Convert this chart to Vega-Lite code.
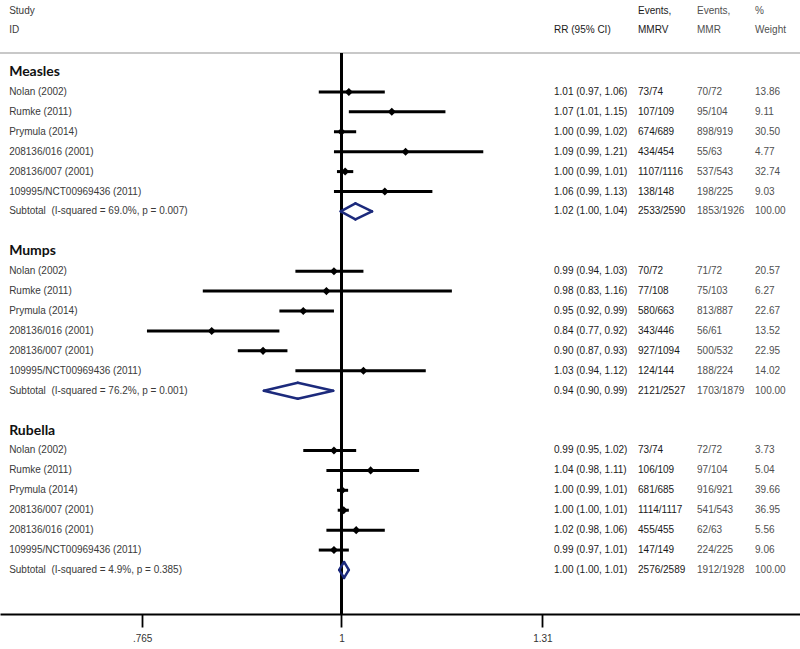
{
  "$schema": "https://vega.github.io/schema/vega-lite/v6.json",
  "width": 800,
  "height": 614,
  "autosize": {"type": "none"},
  "padding": {"left": 0, "top": 0, "right": 0, "bottom": 35},
  "background": "white",
  "config": {
    "view": {"stroke": null},
    "font": "Liberation Sans"
  },
  "data": {"values": [
    {"row": -3.05, "type": "header", "label": "Study", "ci": "", "ev1": "Events,", "ev2": "Events,", "w": "%"},
    {"row": -2.1, "type": "header", "label": "ID", "ci": "RR (95% CI)", "ev1": "MMRV", "ev2": "MMR", "w": "Weight"},
    {"row": 0, "type": "group", "label": "Measles"},
    {"row": 1, "type": "study", "label": "Nolan (2002)", "rr": 1.01, "lo": 0.97, "hi": 1.06, "ci": "1.01 (0.97, 1.06)", "ev1": "73/74", "ev2": "70/72", "w": "13.86"},
    {"row": 2, "type": "study", "label": "Rumke (2011)", "rr": 1.07, "lo": 1.01, "hi": 1.15, "ci": "1.07 (1.01, 1.15)", "ev1": "107/109", "ev2": "95/104", "w": "9.11"},
    {"row": 3, "type": "study", "label": "Prymula (2014)", "rr": 1.0, "lo": 0.99, "hi": 1.02, "ci": "1.00 (0.99, 1.02)", "ev1": "674/689", "ev2": "898/919", "w": "30.50"},
    {"row": 4, "type": "study", "label": "208136/016 (2001)", "rr": 1.09, "lo": 0.99, "hi": 1.21, "ci": "1.09 (0.99, 1.21)", "ev1": "434/454", "ev2": "55/63", "w": "4.77"},
    {"row": 5, "type": "study", "label": "208136/007 (2001)", "rr": 1.005, "lo": 0.994, "hi": 1.016, "ci": "1.00 (0.99, 1.01)", "ev1": "1107/1116", "ev2": "537/543", "w": "32.74"},
    {"row": 6, "type": "study", "label": "109995/NCT00969436 (2011)", "rr": 1.06, "lo": 0.99, "hi": 1.13, "ci": "1.06 (0.99, 1.13)", "ev1": "138/148", "ev2": "198/225", "w": "9.03"},
    {"row": 7, "type": "subtotal", "label": "Subtotal\u00a0 (I-squared = 69.0%, p = 0.007)", "rr": 1.019, "lo": 0.999, "hi": 1.042, "ci": "1.02 (1.00, 1.04)", "ev1": "2533/2590", "ev2": "1853/1926", "w": "100.00"},
    {"row": 9, "type": "group", "label": "Mumps"},
    {"row": 10, "type": "study", "label": "Nolan (2002)", "rr": 0.99, "lo": 0.94, "hi": 1.03, "ci": "0.99 (0.94, 1.03)", "ev1": "70/72", "ev2": "71/72", "w": "20.57"},
    {"row": 11, "type": "study", "label": "Rumke (2011)", "rr": 0.98, "lo": 0.83, "hi": 1.16, "ci": "0.98 (0.83, 1.16)", "ev1": "77/108", "ev2": "75/103", "w": "6.27"},
    {"row": 12, "type": "study", "label": "Prymula (2014)", "rr": 0.95, "lo": 0.92, "hi": 0.99, "ci": "0.95 (0.92, 0.99)", "ev1": "580/663", "ev2": "813/887", "w": "22.67"},
    {"row": 13, "type": "study", "label": "208136/016 (2001)", "rr": 0.84, "lo": 0.77, "hi": 0.92, "ci": "0.84 (0.77, 0.92)", "ev1": "343/446", "ev2": "56/61", "w": "13.52"},
    {"row": 14, "type": "study", "label": "208136/007 (2001)", "rr": 0.9, "lo": 0.87, "hi": 0.93, "ci": "0.90 (0.87, 0.93)", "ev1": "927/1094", "ev2": "500/532", "w": "22.95"},
    {"row": 15, "type": "study", "label": "109995/NCT00969436 (2011)", "rr": 1.03, "lo": 0.94, "hi": 1.12, "ci": "1.03 (0.94, 1.12)", "ev1": "124/144", "ev2": "188/224", "w": "14.02"},
    {"row": 16, "type": "subtotal", "label": "Subtotal\u00a0 (I-squared = 76.2%, p = 0.001)", "rr": 0.943, "lo": 0.901, "hi": 0.989, "ci": "0.94 (0.90, 0.99)", "ev1": "2121/2527", "ev2": "1703/1879", "w": "100.00"},
    {"row": 18, "type": "group", "label": "Rubella"},
    {"row": 19, "type": "study", "label": "Nolan (2002)", "rr": 0.99, "lo": 0.95, "hi": 1.02, "ci": "0.99 (0.95, 1.02)", "ev1": "73/74", "ev2": "72/72", "w": "3.73"},
    {"row": 20, "type": "study", "label": "Rumke (2011)", "rr": 1.04, "lo": 0.98, "hi": 1.11, "ci": "1.04 (0.98, 1.11)", "ev1": "106/109", "ev2": "97/104", "w": "5.04"},
    {"row": 21, "type": "study", "label": "Prymula (2014)", "rr": 1.001, "lo": 0.994, "hi": 1.009, "ci": "1.00 (0.99, 1.01)", "ev1": "681/685", "ev2": "916/921", "w": "39.66"},
    {"row": 22, "type": "study", "label": "208136/007 (2001)", "rr": 1.003, "lo": 0.995, "hi": 1.01, "ci": "1.00 (1.00, 1.01)", "ev1": "1114/1117", "ev2": "541/543", "w": "36.95"},
    {"row": 23, "type": "study", "label": "208136/016 (2001)", "rr": 1.02, "lo": 0.98, "hi": 1.06, "ci": "1.02 (0.98, 1.06)", "ev1": "455/455", "ev2": "62/63", "w": "5.56"},
    {"row": 24, "type": "study", "label": "109995/NCT00969436 (2011)", "rr": 0.99, "lo": 0.97, "hi": 1.01, "ci": "0.99 (0.97, 1.01)", "ev1": "147/149", "ev2": "224/225", "w": "9.06"},
    {"row": 25, "type": "subtotal", "label": "Subtotal\u00a0 (I-squared = 4.9%, p = 0.385)", "rr": 1.0035, "lo": 0.997, "hi": 1.01, "ci": "1.00 (1.00, 1.01)", "ev1": "2576/2589", "ev2": "1912/1928", "w": "100.00"}
  ]},
  "encoding": {
    "y": {"field": "row", "type": "quantitative", "scale": {"domain": [-3.614, 27.21], "reverse": true, "nice": false, "zero": false}, "axis": null}
  },
  "layer": [
    {
      "mark": {"type": "rule", "color": "#c8c8c8", "strokeWidth": 2},
      "encoding": {"y": {"datum": -0.95, "type": "quantitative"}}
    },
    {
      "transform": [{"filter": "datum.type == 'study'"}],
      "mark": {"type": "rule", "color": "black", "strokeWidth": 3},
      "encoding": {
        "x": {"field": "lo", "type": "quantitative",
          "scale": {"type": "log", "domain": [0.632, 1.852], "nice": false, "zero": false},
          "axis": {"values": [0.765, 1, 1.31], "labelExpr": "replace(toString(datum.value), '0.', '.')", "title": null, "grid": false, "zindex": 2,
            "domainColor": "#000000", "domainWidth": 1.8, "domainOpacity": 1, "tickColor": "#000000", "tickWidth": 1.8, "tickOpacity": 1, "tickSize": 13,
            "labelFont": "Liberation Sans", "labelFontSize": 10, "labelColor": "#333333", "labelPadding": 6}},
        "x2": {"field": "hi"}
      }
    },
    {
      "mark": {"type": "rule", "color": "black", "strokeWidth": 1.5},
      "encoding": {
        "x": {"datum": 1, "type": "quantitative"},
        "y": {"datum": -0.95, "type": "quantitative"},
        "y2": {"datum": 27.21}
      }
    },
    {
      "transform": [{"filter": "datum.type == 'study'"}],
      "mark": {"type": "point", "shape": "diamond", "filled": true, "color": "black", "size": 65, "opacity": 1},
      "encoding": {"x": {"field": "rr", "type": "quantitative"}}
    },
    {
      "transform": [{"filter": "datum.type == 'subtotal'"}],
      "mark": {"type": "rule", "color": "#1c2a7c", "strokeWidth": 2.5, "strokeCap": "round", "y2Offset": -8},
      "encoding": {"x": {"field": "lo", "type": "quantitative"}, "x2": {"field": "rr"}, "y2": {"field": "row"}}
    },
    {
      "transform": [{"filter": "datum.type == 'subtotal'"}],
      "mark": {"type": "rule", "color": "#1c2a7c", "strokeWidth": 2.5, "strokeCap": "round", "y2Offset": 8},
      "encoding": {"x": {"field": "lo", "type": "quantitative"}, "x2": {"field": "rr"}, "y2": {"field": "row"}}
    },
    {
      "transform": [{"filter": "datum.type == 'subtotal'"}],
      "mark": {"type": "rule", "color": "#1c2a7c", "strokeWidth": 2.5, "strokeCap": "round", "yOffset": -8},
      "encoding": {"x": {"field": "rr", "type": "quantitative"}, "x2": {"field": "hi"}, "y2": {"field": "row"}}
    },
    {
      "transform": [{"filter": "datum.type == 'subtotal'"}],
      "mark": {"type": "rule", "color": "#1c2a7c", "strokeWidth": 2.5, "strokeCap": "round", "yOffset": 8},
      "encoding": {"x": {"field": "rr", "type": "quantitative"}, "x2": {"field": "hi"}, "y2": {"field": "row"}}
    },
    {
      "transform": [{"filter": "datum.type != 'group'"}],
      "mark": {"type": "text", "align": "left", "baseline": "middle", "font": "Liberation Sans", "fontSize": 10, "color": "#3a3a3a"},
      "encoding": {"x": {"datum": 0.6398, "type": "quantitative"}, "text": {"field": "label"}}
    },
    {
      "transform": [{"filter": "datum.type == 'group'"}],
      "mark": {"type": "text", "align": "left", "baseline": "middle", "font": "Lato", "fontWeight": "bold", "fontSize": 14, "color": "#111111"},
      "encoding": {"x": {"datum": 0.6398, "type": "quantitative"}, "text": {"field": "label"}}
    },
    {
      "transform": [{"filter": "datum.type != 'group'"}],
      "mark": {"type": "text", "align": "left", "baseline": "middle", "font": "Liberation Sans", "fontSize": 10, "color": "#1a1a1a"},
      "encoding": {"x": {"datum": 1.3307, "type": "quantitative"}, "text": {"field": "ci"}}
    },
    {
      "transform": [{"filter": "datum.type != 'group'"}],
      "mark": {"type": "text", "align": "left", "baseline": "middle", "font": "Liberation Sans", "fontSize": 10, "color": "#1a1a1a"},
      "encoding": {"x": {"datum": 1.4897, "type": "quantitative"}, "text": {"field": "ev1"}}
    },
    {
      "transform": [{"filter": "datum.type != 'group'"}],
      "mark": {"type": "text", "align": "left", "baseline": "middle", "font": "Liberation Sans", "fontSize": 10, "color": "#505050"},
      "encoding": {"x": {"datum": 1.6126, "type": "quantitative"}, "text": {"field": "ev2"}}
    },
    {
      "transform": [{"filter": "datum.type != 'group'"}],
      "mark": {"type": "text", "align": "left", "baseline": "middle", "font": "Liberation Sans", "fontSize": 10, "color": "#505050"},
      "encoding": {"x": {"datum": 1.7434, "type": "quantitative"}, "text": {"field": "w"}}
    }
  ]
}
